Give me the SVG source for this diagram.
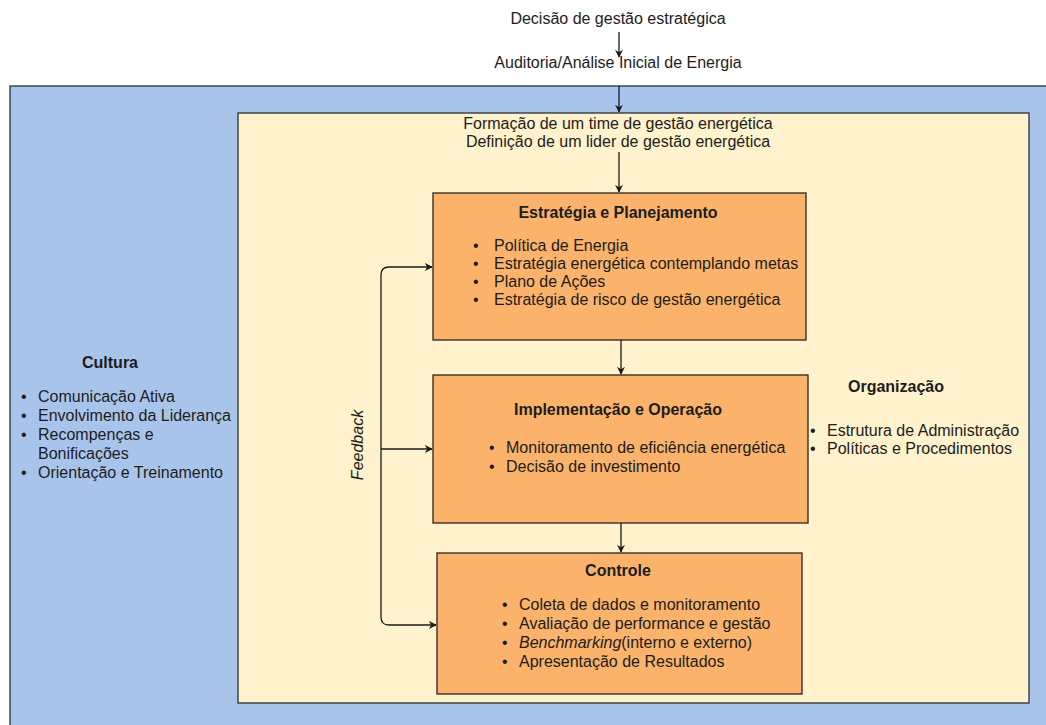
<svg xmlns="http://www.w3.org/2000/svg" width="1046" height="725" viewBox="0 0 1046 725">
  <style>
    text { font-family: "Liberation Sans", Arial, Helvetica, sans-serif; font-size: 16px; fill: #1c1c1c; }
    .title { font-weight: bold; }
    .c { text-anchor: middle; }
    .it { font-style: italic; }
    .zone { stroke: #2b2d36; stroke-width: 1.3; }
    .step { fill: #fbb36b; stroke: #2a2420; stroke-width: 1.3; }
    .link { fill: none; stroke: #1a1a1a; stroke-width: 1.3; }
  </style>
  <defs>
    <marker id="arrow" viewBox="0 0 10 10" refX="9" refY="5" markerWidth="8" markerHeight="8" markerUnits="userSpaceOnUse" orient="auto">
      <path d="M0,0 L10,5 L0,10 L3,5 z" fill="#1a1a1a"/>
    </marker>
  </defs>

  <rect width="1046" height="725" fill="#ffffff"/>

  <!-- outer culture zone -->
  <g id="culture">
    <rect class="zone" x="10" y="86" width="1046" height="660" fill="#a9c4eb"/>
    <text class="title c" x="110" y="368">Cultura</text>
    <text x="21" y="402">•</text><text x="38" y="402">Comunicação Ativa</text>
    <text x="21" y="421">•</text><text x="38" y="421">Envolvimento da Liderança</text>
    <text x="21" y="440">•</text><text x="38" y="440">Recompenças e</text>
    <text x="38" y="459">Bonificações</text>
    <text x="21" y="478">•</text><text x="38" y="478">Orientação e Treinamento</text>
  </g>

  <!-- inner organisation zone -->
  <g id="organization">
    <rect class="zone" x="238" y="113" width="791" height="590" fill="#fff2cc"/>
    <text class="c" x="618" y="129">Formação de um time de gestão energética</text>
    <text class="c" x="618" y="147">Definição de um lider de gestão energética</text>
    <text class="title c" x="896" y="392">Organização</text>
    <text x="810" y="436">•</text><text x="827" y="436">Estrutura de Administração</text>
    <text x="810" y="454">•</text><text x="827" y="454">Políticas e Procedimentos</text>
    <text class="it" transform="translate(363,445) rotate(-90)" text-anchor="middle">Feedback</text>
  </g>

  <g id="decision">
    <text class="c" x="618" y="24">Decisão de gestão estratégica</text>
  </g>

  <g id="audit">
    <text class="c" x="618" y="68">Auditoria/Análise Inicial de Energia</text>
  </g>

  <g id="strategy">
    <rect class="step" x="433" y="193" width="373" height="147"/>
    <text class="title c" x="618" y="218">Estratégia e Planejamento</text>
    <text x="473" y="251">•</text><text x="494" y="251">Política de Energia</text>
    <text x="473" y="269">•</text><text x="494" y="269">Estratégia energética contemplando metas</text>
    <text x="473" y="287">•</text><text x="494" y="287">Plano de Ações</text>
    <text x="473" y="305">•</text><text x="494" y="305">Estratégia de risco de gestão energética</text>
  </g>

  <g id="implementation">
    <rect class="step" x="433" y="375" width="375" height="148"/>
    <text class="title c" x="618" y="415">Implementação e Operação</text>
    <text x="489" y="453">•</text><text x="506" y="453">Monitoramento de eficiência energética</text>
    <text x="489" y="472">•</text><text x="506" y="472">Decisão de investimento</text>
  </g>

  <g id="control">
    <rect class="step" x="437" y="553" width="365" height="141"/>
    <text class="title c" x="618" y="576">Controle</text>
    <text x="502" y="610">•</text><text x="519" y="610">Coleta de dados e monitoramento</text>
    <text x="502" y="629">•</text><text x="519" y="629">Avaliação de performance e gestão</text>
    <text x="502" y="648">•</text><text x="519" y="648"><tspan class="it">Benchmarking</tspan>(interno e externo)</text>
    <text x="502" y="667">•</text><text x="519" y="667">Apresentação de Resultados</text>
  </g>

  <!-- connectors -->
  <g id="connectors">
    <path class="link" d="M619,32 L619,57" marker-end="url(#arrow)"/>
    <path class="link" d="M619,86 L619,112" marker-end="url(#arrow)"/>
    <path class="link" d="M619,152 L619,192" marker-end="url(#arrow)"/>
    <path class="link" d="M621,340 L621,374" marker-end="url(#arrow)"/>
    <path class="link" d="M621,523 L621,552" marker-end="url(#arrow)"/>
    <!-- feedback loop -->
    <path class="link" d="M381,449 L381,275 Q381,267 389,267 L432,267" marker-end="url(#arrow)"/>
    <path class="link" d="M381,449 L432,449" marker-end="url(#arrow)"/>
    <path class="link" d="M381,449 L381,617 Q381,625 389,625 L436,625" marker-end="url(#arrow)"/>
  </g>
</svg>
